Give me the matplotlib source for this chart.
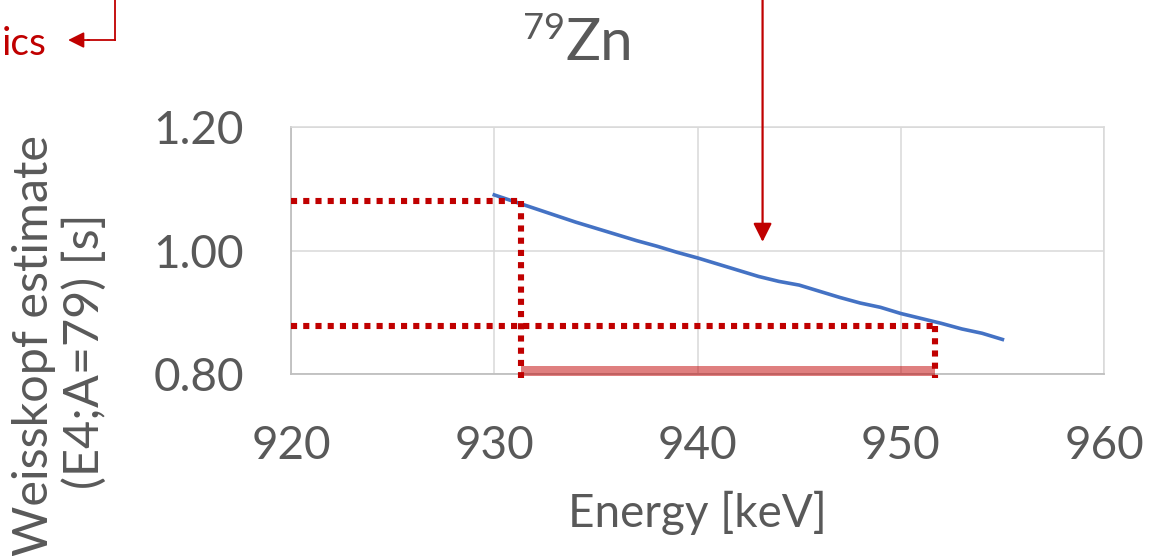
import matplotlib
matplotlib.use("Agg")
import matplotlib.pyplot as plt
from matplotlib.lines import Line2D

plt.rcParams['font.family'] = ['Lato', 'DejaVu Sans']

# Weisskopf E4 estimate for 79Zn vs transition energy
energy = [930, 931, 932, 933, 934, 935, 936, 937, 938, 939, 940, 941, 942,
          943, 944, 945, 946, 947, 948, 949, 950, 951, 952, 953, 954, 955]
t_weisskopf = [1.090, 1.079, 1.068, 1.057, 1.046, 1.036, 1.026, 1.016, 1.007,
               0.997, 0.988, 0.978, 0.968, 0.958, 0.950, 0.944, 0.934, 0.924,
               0.915, 0.908, 0.898, 0.890, 0.882, 0.873, 0.866, 0.856]

# energy window and the corresponding lifetimes
e_low, e_high = 931.3, 951.7
t_at_low, t_at_high = 1.080, 0.877
arrow_energy = 943.2

xticks = [920, 930, 940, 950, 960]
yticks = [0.80, 1.00, 1.20]

red = '#c00000'
grey_text = '#595959'

fig = plt.figure(figsize=(11.74, 5.56), dpi=100)
ax = fig.add_axes([0.2479, 0.3273, 0.6925, 0.4443])

ax.set_xlim(920, 960)
ax.set_ylim(0.80, 1.20)
ax.set_xticks(xticks)
ax.set_yticks(yticks)
ax.set_yticklabels([f"{v:.2f}" for v in yticks])
ax.grid(True, color='#d9d9d9', linewidth=1.1)
ax.set_axisbelow(True)
ax.tick_params(length=0, labelsize=33, labelcolor=grey_text)
ax.tick_params(axis='x', pad=37)
ax.tick_params(axis='y', pad=34)
for side in ['left', 'bottom']:
    ax.spines[side].set_color('#bfbfbf')
    ax.spines[side].set_linewidth(1.3)
for side in ['top', 'right']:
    ax.spines[side].set_color('#d9d9d9')
    ax.spines[side].set_linewidth(1.1)

ax.plot(energy, t_weisskopf, color='#4472c4', linewidth=2.6, zorder=4)

# shaded energy window on the axis
ax.fill_between([e_low, e_high], 0.797, 0.813, color=red, alpha=0.5,
                linewidth=0, clip_on=False, zorder=3)

dots = dict(color=red, linewidth=4.4, linestyle=(0, (1, 1)),
            dash_capstyle='butt', clip_on=False, zorder=5)
ax.plot([920, e_low], [t_at_low, t_at_low], **dots)
ax.plot([e_low, e_low], [t_at_low, 0.794], **dots)
ax.plot([920, e_high], [t_at_high, t_at_high], **dots)
ax.plot([e_high, e_high], [t_at_high, 0.794], **dots)

ax.annotate('', xy=(arrow_energy, 1.014), xycoords='data',
            xytext=(arrow_energy, 1.0), textcoords=('data', 'figure fraction'),
            arrowprops=dict(arrowstyle='-|>', color=red, lw=1.6,
                            mutation_scale=28, shrinkA=0, shrinkB=0))

ax.set_xlabel('Energy [keV]', fontsize=33, color=grey_text, labelpad=17)

# two-line y axis title
fig.text(0.029, 0.3777, 'Weisskopf estimate', rotation=90, ha='center',
         va='center', fontsize=35, color=grey_text)
fig.text(0.0716, 0.3687, '(E4;A=79) [s]', rotation=90, ha='center',
         va='center', fontsize=35, color=grey_text)

# title with superscript mass number
fig.text(0.4813, 0.892, 'Zn', fontsize=42, color=grey_text, ha='left',
         va='baseline')
fig.text(0.4813, 0.93, '79', fontsize=26, color=grey_text, ha='right',
         va='baseline')

# label in the upper-left corner with its arrow
fig.text(0.0015, 0.92, 'ics', fontsize=28, color=red, ha='left',
         va='center')
fig.add_artist(Line2D([0.098, 0.098], [1.0, 0.928], color=red, lw=1.3,
                      transform=fig.transFigure))
fig.add_artist(Line2D([0.098, 0.075], [0.928, 0.928], color=red, lw=1.3,
                      transform=fig.transFigure))
ax.annotate('', xy=(0.058, 0.928), xycoords='figure fraction',
            xytext=(0.076, 0.928), textcoords='figure fraction',
            arrowprops=dict(arrowstyle='-|>', color=red, lw=1.3,
                            mutation_scale=24, shrinkA=0, shrinkB=0))

fig.savefig('out.png', dpi=100)
